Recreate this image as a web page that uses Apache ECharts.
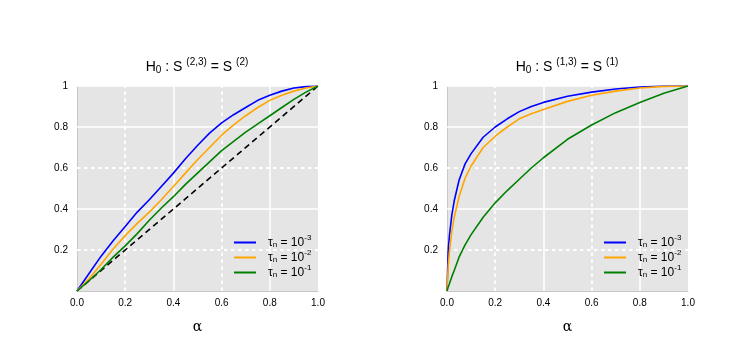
<!DOCTYPE html>
<html>
<head>
<meta charset="utf-8">
<script src="https://cdn.jsdelivr.net/npm/echarts@6/dist/echarts.min.js"></script>
<style>html,body{margin:0;padding:0;background:#fff}#c{width:741px;height:342px}</style>
</head>
<body>
<div id="c"></div>
<script>
// ---- data ----
const xTicks = [0, 0.2, 0.4, 0.6, 0.8, 1.0];
const leftAlpha = [0,0.05,0.1,0.15,0.2,0.25,0.3,0.35,0.4,0.45,0.5,0.55,0.6,0.65,0.7,0.75,0.8,0.85,0.9,0.95,1];
const leftBlue = [0,0.085,0.17,0.245,0.315,0.385,0.445,0.51,0.575,0.645,0.71,0.77,0.82,0.86,0.895,0.93,0.955,0.975,0.99,0.997,1];
const leftOrange = [0,0.06,0.13,0.205,0.27,0.33,0.385,0.445,0.51,0.575,0.64,0.70,0.76,0.81,0.855,0.895,0.93,0.955,0.975,0.99,1];
const leftGreen = [0,0.05,0.105,0.165,0.22,0.28,0.345,0.405,0.46,0.52,0.575,0.63,0.685,0.73,0.775,0.815,0.855,0.895,0.935,0.97,1];
const diagAlpha = [0, 1];
const diagValues = [0, 1];
const rightAlpha = [0,0.005,0.01,0.02,0.03,0.05,0.075,0.1,0.15,0.2,0.25,0.3,0.35,0.4,0.5,0.6,0.7,0.8,0.9,1];
const rightBlue = [0,0.2,0.27,0.37,0.44,0.54,0.62,0.67,0.75,0.8,0.84,0.875,0.9,0.92,0.95,0.97,0.985,0.995,1,1];
const rightOrange = [0,0.12,0.19,0.29,0.36,0.46,0.55,0.61,0.70,0.755,0.80,0.84,0.865,0.885,0.925,0.955,0.975,0.99,0.998,1];
const rightGreen = [0,0.02,0.035,0.07,0.1,0.165,0.225,0.275,0.36,0.43,0.49,0.545,0.6,0.65,0.74,0.81,0.87,0.92,0.965,1];
const seriesNames = ['tau3', 'tau2', 'tau1'];
const seriesExps = ['-3', '-2', '-1'];
const solidGrid = [0.4, 0.8];
const dashedGrid = [0.2, 0.6];
const solidGridY = [0.4, 0.8, 1.0];
const titles = [
  '{n|H}{s|0}{n| : S }{p|(2,3)}{n| = S }{p|(2)}',
  '{n|H}{s|0}{n| : S }{p|(1,3)}{n| = S }{p|(1)}'
];

// ---- chart ----
const FONT = 'Liberation Sans';
const COLORS = ['#0000ff', '#ffa500', '#008000'];
const zip = (xs, ys) => xs.map((x, i) => [x, ys[i]]);

function xAxis(g) {
  return {
    type: 'value', gridIndex: g, min: 0, max: 1, interval: 0.2,
    axisLine: { show: true, lineStyle: { color: '#c8c8c8', width: 1 } },
    axisTick: { show: false }, splitLine: { show: false },
    axisLabel: { formatter: v => v.toFixed(1), color: '#000', fontSize: 10, fontFamily: FONT, margin: 7 },
    name: 'α', nameLocation: 'middle', nameGap: 29,
    nameTextStyle: { fontFamily: 'DejaVu Serif', fontSize: 14, color: '#000' }
  };
}
function yAxis(g) {
  return {
    type: 'value', gridIndex: g, min: 0, max: 1, interval: 0.2,
    axisLine: { show: true, lineStyle: { color: '#c8c8c8', width: 1 } },
    axisTick: { show: false }, splitLine: { show: false },
    axisLabel: { formatter: v => v === 0 ? '' : (v === 1 ? '1' : v.toFixed(1)), color: '#000', fontSize: 10, fontFamily: FONT, margin: 9 }
  };
}
function gridSeries(g) {
  const d = [];
  solidGrid.forEach(v => d.push({ xAxis: v, lineStyle: { type: 'solid' } }));
  dashedGrid.forEach(v => d.push({ xAxis: v, lineStyle: { type: [3.5, 3.5], width: 1.8 } }));
  solidGridY.forEach(v => d.push({ yAxis: v, lineStyle: { type: 'solid' } }));
  dashedGrid.forEach(v => d.push({ yAxis: v, lineStyle: { type: [3.5, 3.5], width: 1.8 } }));
  return {
    type: 'line', xAxisIndex: g, yAxisIndex: g, z: 1, data: [[0, 0]], showSymbol: false,
    lineStyle: { opacity: 0 }, silent: true,
    markLine: { silent: true, symbol: 'none', label: { show: false }, animation: false, z: 1,
      lineStyle: { color: '#ffffff', width: 1.5 }, data: d }
  };
}
function dataSeries(g, idx, xs, ys) {
  return {
    name: seriesNames[idx], type: 'line', xAxisIndex: g, yAxisIndex: g, z: 6,
    data: zip(xs, ys), showSymbol: false, smooth: false,
    lineStyle: { color: COLORS[idx], width: 1.6 }, itemStyle: { color: COLORS[idx] }
  };
}
const legendRich = {
  t: { fontSize: 12, fontFamily: FONT, color: '#000' },
  s: { fontSize: 8, fontFamily: FONT, color: '#000', padding: [5, 0, 0, 0] },
  p: { fontSize: 8, fontFamily: FONT, color: '#000', padding: [0, 0, 9, 0] }
};
function legend(left) {
  return {
    data: seriesNames, orient: 'vertical', left: left, top: 229,
    icon: 'rect', itemWidth: 22, itemHeight: 2, itemGap: 0,
    formatter: n => '{t|τ}{s|n}{t| = 10}{p|' + seriesExps[seriesNames.indexOf(n)] + '}',
    textStyle: { rich: legendRich, padding: [0, 0, 0, 7] }, selectedMode: false
  };
}
const titleRich = {
  n: { fontSize: 14, fontFamily: FONT, color: '#000' },
  s: { fontSize: 10, fontFamily: FONT, color: '#000', padding: [6, 0, 0, 0] },
  p: { fontSize: 10, fontFamily: FONT, color: '#000', padding: [0, 0, 10, 0] }
};

const chart = echarts.init(document.getElementById('c'), null, { renderer: 'canvas' });
chart.setOption({
  animation: false,
  grid: [
    { left: 77, width: 241, top: 86, height: 205, show: true, backgroundColor: '#e5e5e5', borderWidth: 0 },
    { left: 447, width: 241, top: 86, height: 205, show: true, backgroundColor: '#e5e5e5', borderWidth: 0 }
  ],
  xAxis: [xAxis(0), xAxis(1)],
  yAxis: [yAxis(0), yAxis(1)],
  legend: [legend(229), legend(599)],
  graphic: [
    { type: 'text', x: 197, y: 67, style: { text: titles[0], rich: titleRich, align: 'center', verticalAlign: 'middle' } },
    { type: 'text', x: 567, y: 67, style: { text: titles[1], rich: titleRich, align: 'center', verticalAlign: 'middle' } }
  ],
  series: [
    gridSeries(0), gridSeries(1),
    {
      name: 'diag', type: 'line', xAxisIndex: 0, yAxisIndex: 0, z: 5,
      data: zip(diagAlpha, diagValues), showSymbol: false,
      lineStyle: { color: '#000', width: 1.6, type: [6, 4] }
    },
    dataSeries(0, 0, leftAlpha, leftBlue),
    dataSeries(0, 1, leftAlpha, leftOrange),
    dataSeries(0, 2, leftAlpha, leftGreen),
    dataSeries(1, 0, rightAlpha, rightBlue),
    dataSeries(1, 1, rightAlpha, rightOrange),
    dataSeries(1, 2, rightAlpha, rightGreen)
  ]
});
</script>
</body>
</html>
